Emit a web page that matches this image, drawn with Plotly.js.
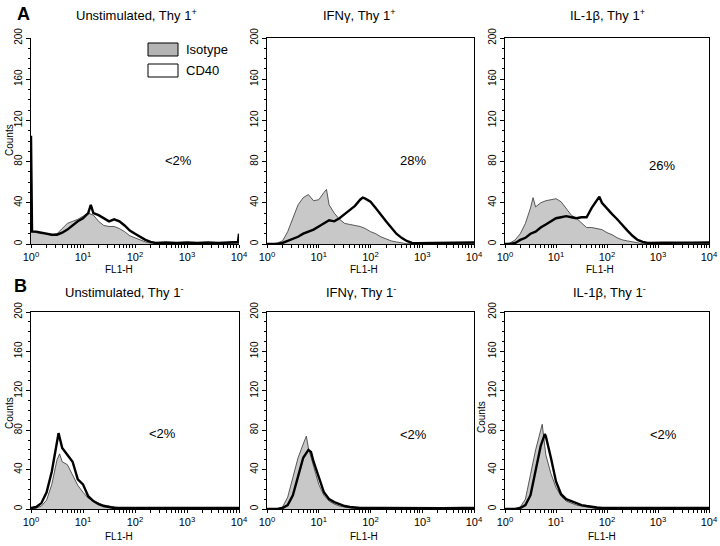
<!DOCTYPE html>
<html><head><meta charset="utf-8">
<script src="https://cdn.plot.ly/plotly-3.0.1.min.js"></script>
<style>body{margin:0;background:#fff}#chart{width:720px;height:546px}</style>
</head><body><div id="chart"></div>
<script>
// ---- data (x = log10 of FL1-H channel, y = counts) ----
const panelTitles = ['Unstimulated, Thy 1<sup>+</sup>', 'IFNγ, Thy 1<sup>+</sup>', 'IL-1β, Thy 1<sup>+</sup>',
                     'Unstimulated, Thy 1<sup>-</sup>', 'IFNγ, Thy 1<sup>-</sup>', 'IL-1β, Thy 1<sup>-</sup>'];
const percentLabels = ['<2%', '28%', '26%', '<2%', '<2%', '<2%'];
const tickVals = [1, 10, 100, 1000, 10000];
const tickText = ['10<sup>0</sup>', '10<sup>1</sup>', '10<sup>2</sup>', '10<sup>3</sup>', '10<sup>4</sup>'];
const yTicks = [0, 40, 80, 120, 160, 200];

// Panel A1: Unstimulated, Thy 1+
const isoA1x = [0, 0.02, 0.1, 0.2, 0.3, 0.4, 0.5, 0.6, 0.7, 0.8, 0.9, 1.0, 1.1, 1.2, 1.3, 1.4, 1.5, 1.6, 1.7, 1.8, 1.9, 2.0, 2.1, 2.2, 2.3, 2.4, 2.6, 3.0, 3.5, 4.0];
const isoA1y = [53, 12, 11, 10, 10, 9, 10, 15, 20, 22, 24, 27, 30, 28, 22, 18, 17, 17, 15, 12, 8, 6, 4, 2, 1, 0.5, 0.3, 0.3, 0.3, 0.5];
const cdA1x = [0, 0.02, 0.1, 0.2, 0.3, 0.4, 0.5, 0.6, 0.7, 0.8, 0.9, 1.0, 1.1, 1.15, 1.2, 1.3, 1.4, 1.5, 1.6, 1.7, 1.8, 1.9, 2.0, 2.1, 2.2, 2.3, 2.4, 2.6, 2.8, 3.0, 3.2, 3.4, 3.6, 3.8, 3.98, 4.0];
const cdA1y = [105, 12, 12, 11, 10, 9, 9, 11, 14, 18, 22, 25, 30, 38, 30, 28, 25, 22, 24, 22, 18, 13, 10, 7, 4, 2, 1, 1.5, 1, 1.5, 1, 1.5, 1, 1.5, 2, 10];

// Panel A2: IFNγ, Thy 1+
const isoA2x = [0, 0.1, 0.2, 0.3, 0.4, 0.5, 0.6, 0.7, 0.8, 0.9, 1.0, 1.1, 1.15, 1.2, 1.3, 1.4, 1.5, 1.6, 1.7, 1.8, 1.9, 2.0, 2.1, 2.2, 2.3, 2.4, 2.5, 2.6, 2.7, 3.0, 4.0];
const isoA2y = [0, 0, 1, 3, 12, 25, 38, 45, 48, 42, 43, 50, 53, 38, 30, 24, 20, 19, 18, 17, 15, 12, 10, 7, 5, 3, 2, 1, 0.3, 0.2, 0.2];
const cdA2x = [0, 0.1, 0.2, 0.3, 0.4, 0.5, 0.6, 0.7, 0.8, 0.9, 1.0, 1.1, 1.2, 1.3, 1.4, 1.5, 1.6, 1.7, 1.8, 1.85, 1.9, 2.0, 2.1, 2.2, 2.3, 2.4, 2.5, 2.6, 2.7, 2.8, 2.9, 3.2, 3.5, 3.8, 4.0];
const cdA2y = [0, 0, 0, 1, 3, 5, 7, 10, 12, 14, 17, 20, 23, 22, 25, 29, 33, 37, 43, 45, 44, 41, 35, 28, 22, 16, 10, 6, 3, 1, 0.8, 1, 1.2, 1, 1.5];

// Panel A3: IL-1β, Thy 1+
const isoA3x = [0, 0.1, 0.2, 0.3, 0.4, 0.5, 0.55, 0.6, 0.7, 0.8, 0.9, 1.0, 1.1, 1.2, 1.3, 1.4, 1.5, 1.6, 1.7, 1.8, 1.9, 2.0, 2.1, 2.2, 2.3, 2.4, 2.5, 2.6, 2.7, 3.0, 4.0];
const isoA3y = [0, 1, 4, 10, 20, 35, 45, 36, 40, 42, 43, 44, 41, 34, 28, 25, 20, 16, 16, 15, 14, 11, 9, 6, 4, 3, 2, 1, 0.3, 0.2, 0.2];
const cdA3x = [0, 0.1, 0.2, 0.3, 0.4, 0.5, 0.6, 0.7, 0.8, 0.9, 1.0, 1.1, 1.2, 1.3, 1.4, 1.5, 1.6, 1.7, 1.8, 1.85, 1.9, 2.0, 2.1, 2.2, 2.3, 2.4, 2.5, 2.6, 2.7, 2.8, 3.1, 3.4, 3.7, 4.0];
const cdA3y = [0, 0, 1, 4, 6, 10, 12, 16, 19, 22, 25, 26, 27, 26, 25, 26, 26, 35, 42, 46, 40, 34, 29, 24, 18, 13, 8, 4, 2, 1, 1.2, 1, 1.3, 1.5];

// Panel B1: Unstimulated, Thy 1-
const isoB1x = [0, 0.1, 0.2, 0.3, 0.4, 0.5, 0.55, 0.6, 0.7, 0.8, 0.9, 1.0, 1.1, 1.2, 1.3, 1.4, 1.5, 1.6, 1.7, 1.8, 2.0, 4.0];
const isoB1y = [0, 1, 3, 9, 25, 50, 56, 48, 45, 35, 24, 17, 11, 8, 6, 4, 3, 2, 1, 0.5, 0.3, 0.2];
const cdB1x = [0, 0.1, 0.2, 0.3, 0.4, 0.5, 0.53, 0.6, 0.7, 0.8, 0.9, 1.0, 1.1, 1.2, 1.3, 1.4, 1.5, 1.6, 1.8, 2.2, 2.6, 3.0, 3.4, 3.8, 4.0];
const cdB1y = [1, 2, 6, 17, 38, 68, 77, 62, 55, 48, 30, 25, 13, 8, 5, 3, 2, 1, 1, 1, 1.2, 1, 1, 1.2, 1];

// Panel B2: IFNγ, Thy 1-
const isoB2x = [0, 0.2, 0.3, 0.4, 0.5, 0.6, 0.7, 0.76, 0.8, 0.9, 1.0, 1.1, 1.2, 1.3, 1.4, 1.5, 1.6, 1.7, 2.0, 4.0];
const isoB2y = [0, 0, 2, 12, 32, 52, 66, 74, 62, 42, 25, 14, 8, 5, 3, 2, 1, 0.5, 0.3, 0.2];
const cdB2x = [0, 0.2, 0.3, 0.4, 0.5, 0.6, 0.7, 0.8, 0.85, 0.9, 1.0, 1.1, 1.2, 1.3, 1.4, 1.5, 1.6, 1.7, 1.8, 2.2, 2.6, 3.0, 3.4, 3.8, 4.0];
const cdB2y = [0, 0, 1, 4, 14, 32, 52, 60, 58, 48, 32, 17, 10, 7, 5, 3, 2, 1.5, 1, 1, 0.8, 1, 0.8, 1, 1];

// Panel B3: IL-1β, Thy 1-
const isoB3x = [0, 0.2, 0.3, 0.4, 0.5, 0.6, 0.7, 0.73, 0.8, 0.9, 1.0, 1.1, 1.2, 1.3, 1.4, 1.5, 1.6, 1.7, 1.8, 2.0, 4.0];
const isoB3y = [0, 0, 2, 10, 35, 60, 80, 86, 55, 36, 22, 13, 8, 6, 4, 3, 2, 1, 0.5, 0.3, 0.2];
const cdB3x = [0, 0.2, 0.3, 0.4, 0.5, 0.6, 0.7, 0.78, 0.8, 0.9, 1.0, 1.1, 1.2, 1.3, 1.4, 1.5, 1.6, 1.7, 1.8, 1.9, 2.2, 2.6, 3.0, 3.4, 3.8, 4.0];
const cdB3y = [0, 0, 1, 4, 14, 38, 64, 76, 74, 52, 28, 15, 10, 8, 6, 4, 3, 2, 1.5, 1, 1, 0.8, 1, 0.8, 1, 1];

const panels = [
  {iso: [isoA1x, isoA1y], cd: [cdA1x, cdA1y]},
  {iso: [isoA2x, isoA2y], cd: [cdA2x, cdA2y]},
  {iso: [isoA3x, isoA3y], cd: [cdA3x, cdA3y]},
  {iso: [isoB1x, isoB1y], cd: [cdB1x, cdB1y]},
  {iso: [isoB2x, isoB2y], cd: [cdB2x, cdB2y]},
  {iso: [isoB3x, isoB3y], cd: [cdB3x, cdB3y]}
];

// ---- layout geometry (pixels) ----
const W = 720, H = 546;
const colPx = [[31, 239], [267, 474], [505, 709]];
const rowPx = [[38, 244], [312, 509]];
const px = v => v / W;
const py = v => 1 - v / H;
const FONT = 'Liberation Sans, Arial, sans-serif';

const toLin = arr => arr.map(l => Math.pow(10, l));

const data = [];
const layout = {
  width: W, height: H,
  margin: {l: 0, r: 0, t: 0, b: 0},
  paper_bgcolor: '#fff', plot_bgcolor: '#fff',
  showlegend: false,
  font: {family: FONT, color: '#000'},
  annotations: [], shapes: []
};

panels.forEach((p, i) => {
  const s = i === 0 ? '' : String(i + 1);
  const col = colPx[i % 3], row = rowPx[Math.floor(i / 3)];
  data.push({
    x: toLin(p.iso[0]), y: p.iso[1], xaxis: 'x' + s, yaxis: 'y' + s,
    type: 'scatter', mode: 'lines', fill: 'tozeroy', fillcolor: '#c8c8c8',
    line: {color: '#333', width: 0.8}, hoverinfo: 'skip'
  });
  data.push({
    x: toLin(p.cd[0]), y: p.cd[1], xaxis: 'x' + s, yaxis: 'y' + s,
    type: 'scatter', mode: 'lines',
    line: {color: '#000', width: 2.4}, hoverinfo: 'skip'
  });
  const mirror = i !== 0;
  layout['xaxis' + s] = {
    type: 'log', range: [0, 4], domain: [px(col[0]), px(col[1])], anchor: 'y' + s,
    tickvals: tickVals, ticktext: tickText, ticks: 'outside', ticklen: 3, tickwidth: 1, tickcolor: '#000',
    showline: true, linecolor: '#000', linewidth: 1.2, mirror: mirror, showgrid: false, zeroline: false,
    tickfont: {size: 11, family: FONT, color: '#000'},
    minor: {ticks: 'outside', ticklen: 2.5, tickcolor: '#000', dtick: 'D1', showgrid: false}
  };
  layout['yaxis' + s] = {
    range: [0, 200], domain: [py(row[1]), py(row[0])], anchor: 'x' + s,
    tickvals: yTicks, tickangle: -90, ticks: 'outside', ticklen: 4, tickwidth: 1, tickcolor: '#000',
    showline: true, linecolor: '#000', linewidth: 1.2, mirror: mirror, showgrid: false, zeroline: false,
    tickfont: {size: 10, family: FONT, color: '#000'},
    minor: {ticks: 'outside', ticklen: 2, tickcolor: '#000', dtick: 10, showgrid: false}
  };
});

// text positions (pixels)
const titlePos = [[136, 15], [359, 15], [607, 15], [124, 292], [361, 292], [609, 292]];
const pctPos = [[178, 160], [413, 160], [662, 165], [162, 433], [414, 435], [663, 435]];
const fl1Pos = [[119, 269], [364, 269], [600, 269], [119, 536], [364, 536], [602, 536]];
const ann = layout.annotations;
panelTitles.forEach((t, i) => {
  ann.push({text: t, x: px(titlePos[i][0]), y: py(titlePos[i][1]), xref: 'paper', yref: 'paper',
    showarrow: false, xanchor: 'center', yanchor: 'middle', font: {size: 13, family: FONT}});
  ann.push({text: percentLabels[i], x: px(pctPos[i][0]), y: py(pctPos[i][1]), xref: 'paper', yref: 'paper',
    showarrow: false, xanchor: 'center', yanchor: 'middle', font: {size: 13, family: FONT}});
  ann.push({text: 'FL1-H', x: px(fl1Pos[i][0]), y: py(fl1Pos[i][1]), xref: 'paper', yref: 'paper',
    showarrow: false, xanchor: 'center', yanchor: 'middle', font: {size: 10, family: FONT}});
});
[[9, 140], [9, 413], [481, 417]].forEach(([x, y]) => {
  ann.push({text: 'Counts', x: px(x), y: py(y), xref: 'paper', yref: 'paper', textangle: -90,
    showarrow: false, xanchor: 'center', yanchor: 'middle', font: {size: 10, family: FONT}});
});
ann.push({text: '<b>A</b>', x: px(23), y: py(14), xref: 'paper', yref: 'paper', showarrow: false,
  xanchor: 'center', yanchor: 'middle', font: {size: 18, family: FONT}});
ann.push({text: '<b>B</b>', x: px(20), y: py(286), xref: 'paper', yref: 'paper', showarrow: false,
  xanchor: 'center', yanchor: 'middle', font: {size: 18, family: FONT}});

// legend (panel A1)
const legendItems = ['Isotype', 'CD40'];
const legendFill = ['#b4b4b4', '#ffffff'];
const legY = [[43, 56], [64, 77]];
legendItems.forEach((t, i) => {
  layout.shapes.push({type: 'rect', xref: 'paper', yref: 'paper',
    x0: px(148), x1: px(178), y0: py(legY[i][1]), y1: py(legY[i][0]),
    fillcolor: legendFill[i], line: {color: '#000', width: 1}});
  ann.push({text: t, x: px(184), y: py((legY[i][0] + legY[i][1]) / 2), xref: 'paper', yref: 'paper',
    showarrow: false, xanchor: 'left', yanchor: 'middle', font: {size: 13, family: FONT}});
});

Plotly.newPlot('chart', data, layout, {staticPlot: true, displayModeBar: false});
</script></body></html>
